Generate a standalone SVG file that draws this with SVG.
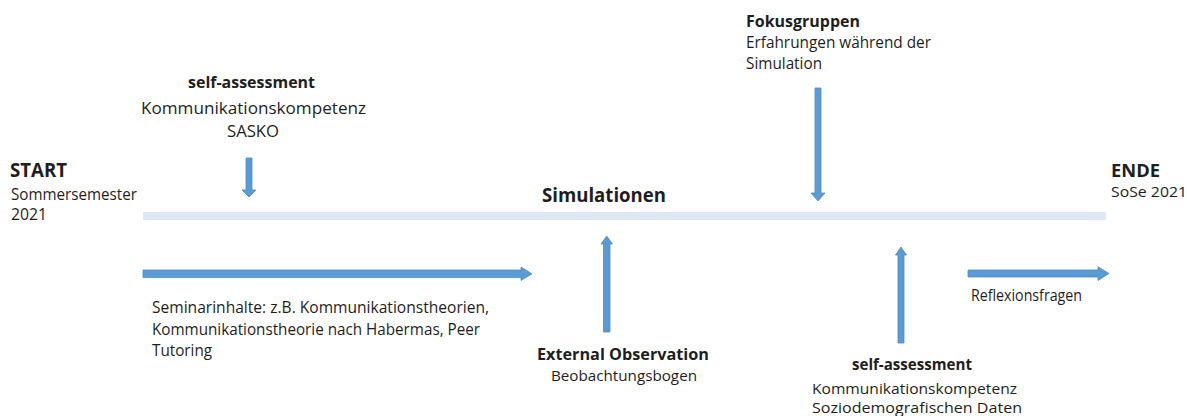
<svg xmlns="http://www.w3.org/2000/svg" width="1187" height="416" viewBox="0 0 1187 416">
  <style>
    text { font-family: "Open Sans", "Liberation Sans", sans-serif; fill: #1e1e1e; font-size: 16px; }
    .b { font-weight: bold; }
    .big { font-size: 20px; }
    .sm { font-size: 14.5px; }
    .arrow { fill: #5b9bd5; stroke: #4f8cc6; stroke-width: 0.8; }
    .timeline { fill: #dde9f5; }
  </style>
  <rect width="1187" height="416" fill="#ffffff"/>

  <!-- timeline bar -->
  <rect id="timeline" class="timeline" x="143" y="212" width="963" height="8"/>

  <!-- arrows -->
  <g id="connectors">
    <!-- into the timeline from above -->
    <polygon class="arrow" points="246,158 252,158 252,190 256,190 249,197 242,190 246,190"/>
    <polygon class="arrow" points="815,88 821,88 821,193 825,193 818,201 811,193 815,193"/>
    <!-- into the timeline from below -->
    <polygon class="arrow" points="603.5,332 610,332 610,244 612.5,244 606.7,236 601,244 603.5,244"/>
    <polygon class="arrow" points="898,343 904,343 904,255 906.5,255 901,247 895.5,255 898,255"/>
    <!-- horizontal phases -->
    <polygon class="arrow" points="143,270 521,270 521,267 532,273.8 521,280.5 521,277.6 143,277.6"/>
    <polygon class="arrow" points="968,270 1098,270 1098,266.8 1109,273.5 1098,280.5 1098,277 968,277"/>
  </g>

  <g id="start">
    <text class="b big" x="10" y="177" textLength="57" lengthAdjust="spacingAndGlyphs">START</text>
    <text x="11" y="200" textLength="126" lengthAdjust="spacingAndGlyphs">Sommersemester</text>
    <text x="11" y="220" textLength="36" lengthAdjust="spacingAndGlyphs">2021</text>
  </g>

  <g id="self-assessment-pre">
    <text class="b" x="188" y="88" textLength="127" lengthAdjust="spacingAndGlyphs">self-assessment</text>
    <text x="141" y="114" textLength="225" lengthAdjust="spacingAndGlyphs">Kommunikationskompetenz</text>
    <text x="227" y="137" textLength="52" lengthAdjust="spacingAndGlyphs">SASKO</text>
  </g>

  <g id="fokusgruppen">
    <text class="b" x="746" y="27" textLength="114" lengthAdjust="spacingAndGlyphs">Fokusgruppen</text>
    <text x="746" y="48" textLength="185" lengthAdjust="spacingAndGlyphs">Erfahrungen während der</text>
    <text x="746" y="69" textLength="76" lengthAdjust="spacingAndGlyphs">Simulation</text>
  </g>

  <g id="simulationen">
    <text class="b big" x="542" y="202" textLength="124" lengthAdjust="spacingAndGlyphs">Simulationen</text>
  </g>

  <g id="seminar">
    <text x="152" y="313" textLength="337" lengthAdjust="spacingAndGlyphs">Seminarinhalte: z.B. Kommunikationstheorien,</text>
    <text x="152" y="335" textLength="328" lengthAdjust="spacingAndGlyphs">Kommunikationstheorie nach Habermas, Peer</text>
    <text x="152" y="356" textLength="60" lengthAdjust="spacingAndGlyphs">Tutoring</text>
  </g>

  <g id="external-observation">
    <text class="b" x="537" y="360" style="font-size:15.5px" textLength="172" lengthAdjust="spacingAndGlyphs">External Observation</text>
    <text class="sm" x="551" y="381" textLength="146" lengthAdjust="spacingAndGlyphs">Beobachtungsbogen</text>
  </g>

  <g id="self-assessment-post">
    <text class="b" x="852" y="370" textLength="120" lengthAdjust="spacingAndGlyphs">self-assessment</text>
    <text class="sm" x="812" y="394" textLength="205" lengthAdjust="spacingAndGlyphs">Kommunikationskompetenz</text>
    <text class="sm" x="812" y="413" textLength="210" lengthAdjust="spacingAndGlyphs">Soziodemografischen Daten</text>
  </g>

  <g id="reflexion">
    <text x="971" y="301" textLength="111" lengthAdjust="spacingAndGlyphs">Reflexionsfragen</text>
  </g>

  <g id="ende">
    <text class="b" x="1111" y="177" style="font-size:18.5px" textLength="49" lengthAdjust="spacingAndGlyphs">ENDE</text>
    <text class="sm" x="1111" y="197" style="font-size:14px" textLength="76" lengthAdjust="spacingAndGlyphs">SoSe 2021</text>
  </g>
</svg>
